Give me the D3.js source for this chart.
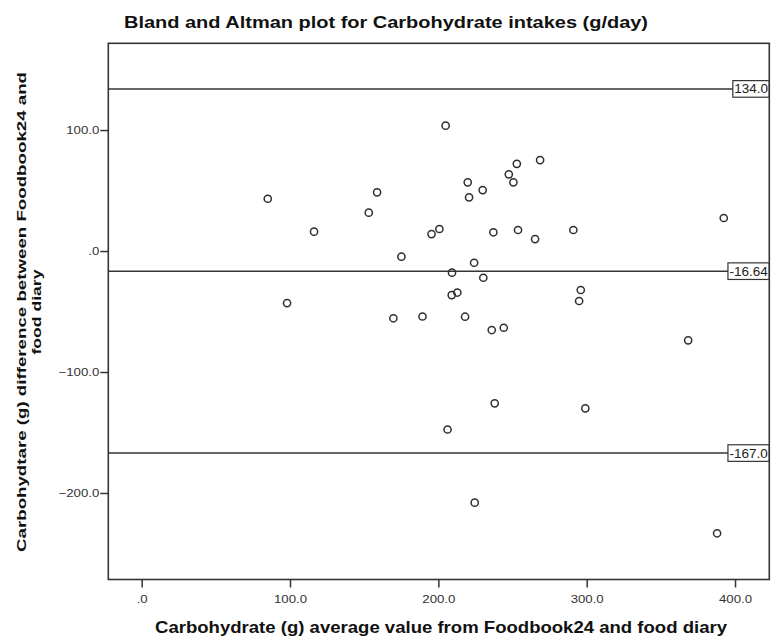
<!DOCTYPE html>
<html>
<head>
<meta charset="utf-8">
<script src="https://cdn.jsdelivr.net/npm/d3@7"></script>
<style>
  html, body { margin: 0; padding: 0; background: #fff; }
  svg { display: block; font-family: "Liberation Sans", Arial, sans-serif; }
</style>
</head>
<body>
<svg id="chart" width="777" height="642"></svg>
<script>
// ---- data ----
const avgValues = [204.9, 85.0, 158.7, 153.1, 116.2, 195.4, 200.7, 175.1, 98.0, 219.8,
  229.9, 220.7, 247.5, 250.6, 252.9, 268.6, 392.4, 237.1, 253.7, 265.2,
  291.0, 224.1, 209.2, 230.3, 296.0, 294.9, 209.0, 212.8, 169.7, 189.3,
  218.0, 236.0, 244.1, 368.4, 238.0, 299.1, 206.2, 224.5, 387.9];
const diffValues = [103.6, 43.2, 48.5, 31.7, 16.0, 14.0, 18.2, -4.7, -43.0, 56.8,
  50.4, 44.4, 63.4, 56.8, 72.1, 75.2, 27.3, 15.5, 17.4, 9.9,
  17.4, -9.7, -17.9, -22.1, -32.2, -41.3, -36.4, -34.3, -55.6, -54.1,
  -54.3, -65.3, -63.4, -73.8, -125.9, -130.0, -147.5, -208.0, -233.3];
const refValues = [134.0, -16.64, -167.0];
const refLabels = ["134.0", "-16.64", "-167.0"];
const xTicks = [0, 100, 200, 300, 400];
const yTicks = [100, 0, -100, -200];
const titleText = "Bland and Altman plot for Carbohydrate intakes (g/day)";
const xLabelText = "Carbohydrate (g) average value from Foodbook24 and food diary";
const yLabelLines = ["Carbohydtare (g) difference  between Foodbook24 and", "food diary"];

// ---- layout ----
const svg = d3.select("#chart");
const L = 108.3, R = 769.3, T = 43.3, B = 579.5;
const x = d3.scaleLinear().domain([-22.5, 423.1]).range([L, R]);
const y = d3.scaleLinear().domain([-271.5, 171.7]).range([B, T]);
const fmt = d => d === 0 ? ".0" : d3.format(".1f")(d);
const ink = "#353535";

svg.append("rect").attr("width", 777).attr("height", 642).attr("fill", "#fff");

svg.append("defs").append("clipPath").attr("id", "plotclip")
  .append("rect").attr("x", L).attr("y", T).attr("width", R - L).attr("height", B - T);

function stretch(sel, k) {
  sel.each(function () {
    const w = this.getComputedTextLength();
    this.setAttribute("textLength", w * k);
    this.setAttribute("lengthAdjust", "spacingAndGlyphs");
  });
}

// reference lines
const refG = svg.append("g").attr("clip-path", "url(#plotclip)");
refG.selectAll("line.ref").data(refValues).join("line")
  .attr("class", "ref")
  .attr("x1", L).attr("x2", R)
  .attr("y1", d => y(d)).attr("y2", d => y(d))
  .attr("stroke", ink).attr("stroke-width", 1.5);

// points
svg.append("g").selectAll("circle").data(avgValues).join("circle")
  .attr("cx", d => x(d))
  .attr("cy", (d, i) => y(diffValues[i]))
  .attr("r", 3.6)
  .attr("fill", "none")
  .attr("stroke", "#2e2e2e")
  .attr("stroke-width", 1.5);

// ref labels with boxes
refValues.forEach((v, i) => {
  const g = refG.append("g");
  const t = g.append("text").text(refLabels[i])
    .attr("font-size", 12.5).attr("fill", "#222")
    .attr("y", y(v)).attr("dy", "0.36em");
  stretch(t, 1.08);
  const w = t.node().getComputedTextLength() * 1.08;
  const bx = R - w;
  g.insert("rect", "text")
    .attr("x", bx).attr("y", y(v) - 8.3)
    .attr("width", R - bx).attr("height", 16.6)
    .attr("fill", "#fff").attr("stroke", ink).attr("stroke-width", 1.2);
  t.attr("x", bx + 1.5);
});

// frame
svg.append("rect").attr("x", L).attr("y", T).attr("width", R - L).attr("height", B - T)
  .attr("fill", "none").attr("stroke", ink).attr("stroke-width", 1.6);

// axes
const xAxis = svg.append("g").attr("transform", `translate(0,${B})`)
  .call(d3.axisBottom(x).tickValues(xTicks).tickFormat(fmt).tickSize(8).tickPadding(8).tickSizeOuter(0));
const yAxis = svg.append("g").attr("transform", `translate(${L},0)`)
  .call(d3.axisLeft(y).tickValues(yTicks).tickFormat(fmt).tickSize(8).tickPadding(1).tickSizeOuter(0));
[xAxis, yAxis].forEach(a => {
  a.select(".domain").remove();
  a.selectAll(".tick line").attr("stroke", ink).attr("stroke-width", 1.5);
  a.selectAll(".tick text").attr("fill", "#333").attr("font-size", 11)
    .attr("font-family", "'Liberation Sans', Arial, sans-serif");
  stretch(a.selectAll(".tick text"), 1.2);
});

// title
svg.append("text").text(titleText)
  .attr("x", 386).attr("y", 28).attr("text-anchor", "middle")
  .attr("font-size", 16).attr("font-weight", "bold").attr("fill", "#111")
  .attr("textLength", 524).attr("lengthAdjust", "spacingAndGlyphs");

// x label
svg.append("text").text(xLabelText)
  .attr("x", 441).attr("y", 633).attr("text-anchor", "middle")
  .attr("font-size", 17).attr("font-weight", "bold").attr("fill", "#111")
  .attr("textLength", 572).attr("lengthAdjust", "spacingAndGlyphs");

// y label
const yl = svg.append("g");
yl.append("text").text(yLabelLines[0])
  .attr("transform", "translate(26,312) rotate(-90)")
  .attr("text-anchor", "middle").attr("font-size", 12.5).attr("font-weight", "bold").attr("fill", "#111")
  .attr("textLength", 480).attr("lengthAdjust", "spacingAndGlyphs");
yl.append("text").text(yLabelLines[1])
  .attr("transform", "translate(40.5,312) rotate(-90)")
  .attr("text-anchor", "middle").attr("font-size", 12.5).attr("font-weight", "bold").attr("fill", "#111")
  .attr("textLength", 85).attr("lengthAdjust", "spacingAndGlyphs");
</script>
</body>
</html>
